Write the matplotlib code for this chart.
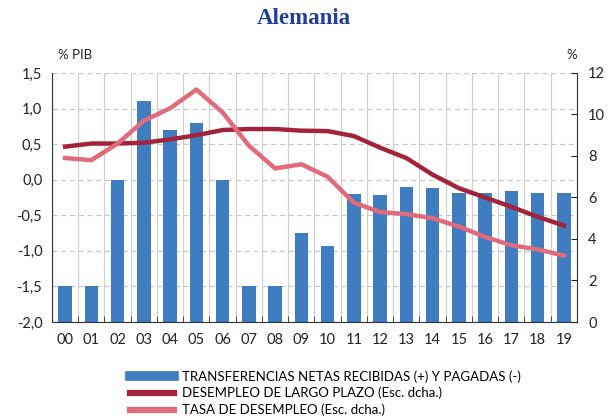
import numpy as np
import matplotlib.pyplot as plt
from matplotlib.ticker import FixedLocator
from matplotlib.lines import Line2D

# years 2000-2019
years = ['00', '01', '02', '03', '04', '05', '06', '07', '08', '09',
         '10', '11', '12', '13', '14', '15', '16', '17', '18', '19']

# net transfers (% GDP), left axis
transfers = [-1.5, -1.5, 0.0, 1.1, 0.7, 0.8, 0.0, -1.5, -1.5, -0.75,
             -0.93, -0.2, -0.22, -0.1, -0.12, -0.18, -0.18, -0.16, -0.18, -0.19]

# long-term unemployment (%), right axis
long_term = [8.45, 8.6, 8.6, 8.64, 8.8, 9.0, 9.25, 9.3, 9.3, 9.22,
             9.2, 8.96, 8.4, 7.9, 7.1, 6.45, 6.0, 5.55, 5.07, 4.65]

# unemployment rate (%), right axis
unemp_rate = [7.9, 7.8, 8.6, 9.7, 10.3, 11.2, 10.1, 8.5, 7.4, 7.6,
              7.0, 5.75, 5.3, 5.2, 5.0, 4.6, 4.1, 3.7, 3.5, 3.2]

plt.rcParams['font.family'] = ['Lato', 'DejaVu Sans']

fig = plt.figure(figsize=(6.08, 4.19), dpi=100)
ax = fig.add_axes([0.0855, 0.2315, 0.8635, 0.5943])
x = np.arange(len(years))

bars = ax.bar(x, [t + 2.0 for t in transfers], bottom=-2.0, width=0.52,
              color='#3f7cc0', zorder=2,
              label='TRANSFERENCIAS NETAS RECIBIDAS (+) Y PAGADAS (-)')
ax.set_ylim(-2.0, 1.5)
ax.set_xlim(-0.5, len(years) - 0.5)
yt = np.arange(-2.0, 1.51, 0.5)
ax.set_yticks(yt)
ax.set_yticklabels([f'{v:.1f}'.replace('.', ',') for v in yt])
ax.set_xticks(x)
ax.set_xticklabels(years)
ax.xaxis.set_minor_locator(FixedLocator(np.arange(-0.5, len(years), 1.0)))
ax.tick_params(axis='x', which='major', length=0, pad=8)
ax.tick_params(axis='x', which='minor', length=4, direction='in', color='#333333')
ax.tick_params(axis='y', length=0, pad=7)
ax.tick_params(labelsize=10.5, colors='#222222')
ax.yaxis.grid(True, linestyle=(0, (4, 3)), color='#c8c8c8', linewidth=0.9)
ax.xaxis.grid(True, which='minor', color='#d0d0d0', linewidth=0.9)
ax.set_axisbelow(True)
ax.spines['top'].set_visible(False)
ax.spines['right'].set_visible(False)
ax.spines['left'].set_color('#333333')
ax.spines['bottom'].set_color('#333333')

ax2 = ax.twinx()
l1, = ax2.plot(x, long_term, color='#a2233a', linewidth=3.2,
               label='DESEMPLEO DE LARGO PLAZO (Esc. dcha.)', zorder=3)
l2, = ax2.plot(x, unemp_rate, color='#e06b7b', linewidth=3.2,
               label='TASA DE DESEMPLEO (Esc. dcha.)', zorder=3)
ax2.set_ylim(0, 12)
ax2.set_yticks(range(0, 13, 2))
ax2.tick_params(axis='y', direction='in', length=4, labelsize=10.5,
                colors='#222222', pad=8)
for s in ['top', 'left', 'bottom']:
    ax2.spines[s].set_visible(False)
ax2.spines['right'].set_color('#333333')

fig.text(0.499, 0.955, 'Alemania', ha='center', va='center', fontsize=16.5,
         fontweight='bold', family='Liberation Serif', color='#21409a')
fig.text(0.095, 0.868, '% PIB', ha='left', va='center', fontsize=9.5, color='#222222')
fig.text(0.932, 0.868, '%', ha='left', va='center', fontsize=9.5, color='#222222')

handles = [Line2D([0], [0], color='#3f7cc0', linewidth=7),
           Line2D([0], [0], color='#a2233a', linewidth=4.5),
           Line2D([0], [0], color='#e06b7b', linewidth=4.5)]
labels = [bars.get_label(), l1.get_label(), l2.get_label()]
fig.legend(handles, labels, loc='upper left', bbox_to_anchor=(0.214, 0.117),
           frameon=False, fontsize=9.5, handlelength=3.3, handletextpad=0.6,
           labelspacing=0.33, borderaxespad=0, borderpad=0)

fig.savefig('out.png', dpi=100)
